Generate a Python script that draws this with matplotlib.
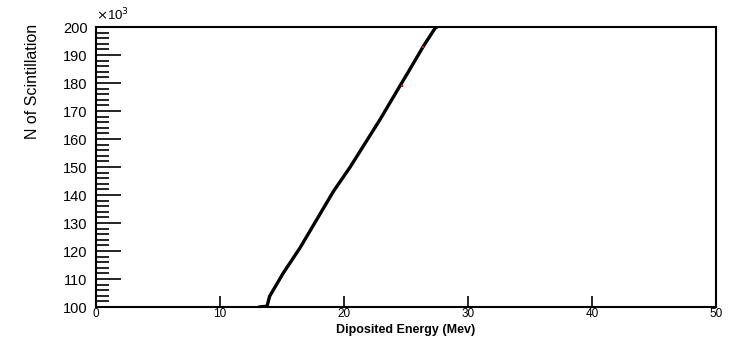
import numpy as np
import matplotlib as mpl
mpl.use('Agg')
import matplotlib.pyplot as plt
from matplotlib.ticker import MultipleLocator

plt.rcParams['font.family'] = ['Liberation Sans', 'DejaVu Sans']

# deposited energy (MeV) vs number of scintillation photons (x10^3)
energy = [13.2, 13.8, 14.0, 15.1, 16.45, 17.8, 19.15, 20.5, 21.55,
          22.9, 24.25, 25.3, 26.4, 27.35, 27.5]
n_scint = [100.0, 100.3, 103.8, 112.1, 121.1, 131.2, 141.3, 150.0, 157.4,
           166.9, 177.0, 184.8, 193.1, 199.6, 200.0]

# a few red event markers on top of the curve
red_e = [24.7, 26.35, 27.42]
red_n = [179.1, 192.9, 200.0]

fig = plt.figure(figsize=(7.32, 3.4), dpi=100)
ax = fig.add_axes([0.1311, 0.097, 0.847, 0.8235])

ax.plot(energy, n_scint, color='black', lw=2.4, solid_joinstyle='round')
ax.plot(red_e, red_n, 's', color='red', ms=1.5, mew=0)

ax.set_xlim(0, 50)
ax.set_ylim(100, 200)

ax.xaxis.set_major_locator(MultipleLocator(10))
ax.yaxis.set_major_locator(MultipleLocator(10))
ax.yaxis.set_minor_locator(MultipleLocator(2))

ax.tick_params(axis='x', direction='in', length=8, width=1.2, pad=1,
               labelsize=8.5, top=False)
ax.tick_params(axis='y', which='major', direction='in', length=18, width=1.2,
               pad=6, labelsize=10.5, right=False)
ax.tick_params(axis='y', which='minor', direction='in', length=9, width=1.2,
               right=False)

for sp in ax.spines.values():
    sp.set_linewidth(1.5)

ax.set_xlabel('Diposited Energy (Mev)', fontsize=9, fontweight='bold')
ax.xaxis.set_label_coords(0.5, -0.06)
ax.set_ylabel('N of Scintillation', fontsize=11.5, ha='right')
ax.yaxis.set_label_coords(-0.09, 1.01)

ax.text(0.0, 1.015, r'$\times$10$^{3}$', transform=ax.transAxes,
        fontsize=9.5, ha='left', va='bottom')

fig.savefig('out.png', dpi=100)
